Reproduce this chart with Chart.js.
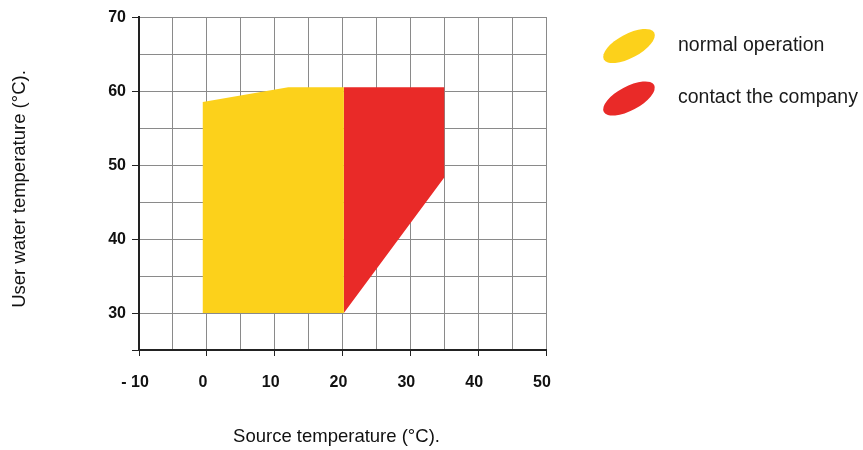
<!DOCTYPE html>
<html>
<head>
<meta charset="utf-8">
<script src="https://cdn.jsdelivr.net/npm/chart.js@4"></script>
<style>
  html, body { margin: 0; padding: 0; background: #ffffff; }
  #wrap { position: relative; width: 863px; height: 450px; }
</style>
</head>
<body>
<div id="wrap"><canvas id="c" width="863" height="450"></canvas></div>
<script>
// Source temperature (°C) / user water temperature (°C) outlines of the operating zones
const normalX = [-0.6, -0.6, 12, 20.2, 20.2, -0.6];
const normalY = [30, 58.5, 60.5, 60.5, 30, 30];
const contactX = [20.2, 35, 35, 20.2, 20.2];
const contactY = [60.5, 60.5, 48.3, 30, 60.5];

const seriesNames = ['normal operation', 'contact the company'];
const seriesColors = ['#FCD11B', '#E92A28'];

const xTickLabels = { '-10': '- 10', '0': '0', '10': '10', '20': '20', '30': '30', '40': '40', '50': '50' };
const yTickLabels = { '30': '30', '40': '40', '50': '50', '60': '60', '70': '70' };

const xTitle = 'Source temperature (°C).';
const yTitle = 'User water temperature (°C).';

function pts(xs, ys) { return xs.map((x, i) => ({ x: x, y: ys[i] })); }

const FAMILY = '"Liberation Sans", Arial, sans-serif';

const decorPlugin = {
  id: 'decor',
  afterDraw(chart) {
    const ctx = chart.ctx;
    const items = [
      { cx: 629, cy: 46, ty: 50.5 },
      { cx: 629, cy: 98.5, ty: 102.5 }
    ];
    ctx.save();
    items.forEach((it, i) => {
      ctx.beginPath();
      ctx.ellipse(it.cx, it.cy, 28.5, 12, -28 * Math.PI / 180, 0, Math.PI * 2);
      ctx.fillStyle = seriesColors[i];
      ctx.fill();
      ctx.fillStyle = '#1a1a1a';
      ctx.font = '19.5px ' + FAMILY;
      ctx.textBaseline = 'alphabetic';
      ctx.textAlign = 'left';
      ctx.fillText(seriesNames[i], 678, it.ty);
    });
    // axis titles
    ctx.fillStyle = '#111';
    ctx.font = '18.5px ' + FAMILY;
    ctx.textAlign = 'center';
    ctx.textBaseline = 'middle';
    ctx.fillText(xTitle, 336.5, 437);
    ctx.translate(20, 189);
    ctx.rotate(-Math.PI / 2);
    ctx.fillText(yTitle, 0, 0);
    ctx.restore();
  }
};

const gridColor = '#8a8a8a';
const axisColor = '#222222';
const tickFont = { family: FAMILY, size: 16, weight: 'bold' };

new Chart(document.getElementById('c'), {
  type: 'line',
  data: {
    datasets: [
      {
        label: seriesNames[0],
        data: pts(normalX, normalY),
        backgroundColor: seriesColors[0],
        borderColor: seriesColors[0],
        borderWidth: 0,
        pointRadius: 0,
        fill: 'shape',
        tension: 0
      },
      {
        label: seriesNames[1],
        data: pts(contactX, contactY),
        backgroundColor: seriesColors[1],
        borderColor: seriesColors[1],
        borderWidth: 0,
        pointRadius: 0,
        fill: 'shape',
        tension: 0
      }
    ]
  },
  options: {
    responsive: false,
    animation: false,
    parsing: false,
    layout: { padding: { top: 17, right: 317, bottom: 0, left: 0 } },
    plugins: { legend: { display: false }, tooltip: { enabled: false } },
    scales: {
      x: {
        type: 'linear',
        min: -10, max: 50,
        afterFit(scale) { scale.height = 100; },
        ticks: {
          stepSize: 5,
          autoSkip: false,
          maxRotation: 0,
          padding: 17,
          labelOffset: -4,
          color: '#111',
          font: tickFont,
          callback: (v) => (xTickLabels[String(v)] !== undefined ? xTickLabels[String(v)] : '')
        },
        grid: {
          color: gridColor,
          lineWidth: 1,
          tickLength: 6,
          tickColor: (ctx) => (ctx.tick && ctx.tick.value % 10 === 0 ? axisColor : 'rgba(0,0,0,0)')
        },
        border: { color: axisColor, width: 2 },
        title: { display: false }
      },
      y: {
        type: 'linear',
        min: 25, max: 70,
        afterFit(scale) { scale.width = 139; },
        ticks: {
          stepSize: 5,
          autoSkip: false,
          padding: 6,
          labelOffset: 1,
          color: '#111',
          font: tickFont,
          callback: (v) => (yTickLabels[String(v)] !== undefined ? yTickLabels[String(v)] : '')
        },
        grid: {
          color: gridColor,
          lineWidth: 1,
          tickLength: 7,
          tickColor: (ctx) => (ctx.tick && (ctx.tick.value % 10 === 0 || ctx.tick.value === 25) ? axisColor : 'rgba(0,0,0,0)')
        },
        border: { color: axisColor, width: 2 },
        title: { display: false }
      }
    }
  },
  plugins: [decorPlugin]
});
</script>
</body>
</html>
